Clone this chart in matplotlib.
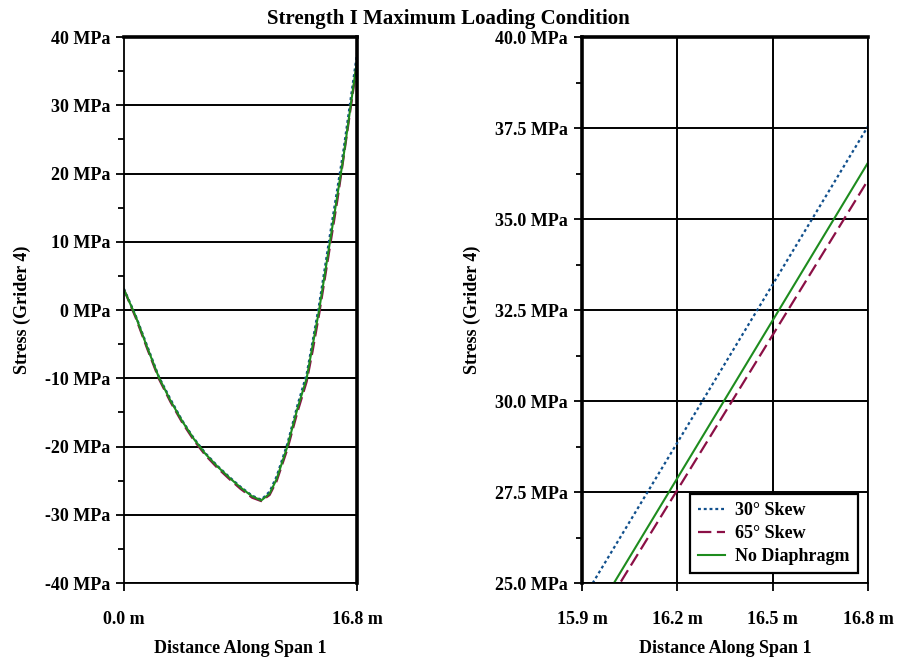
import matplotlib
matplotlib.use("Agg")
import matplotlib.pyplot as plt
from matplotlib.ticker import FixedLocator, MultipleLocator, FuncFormatter

plt.rcParams["font.family"] = ["Liberation Serif", "DejaVu Serif"]
plt.rcParams["font.weight"] = "bold"

# stations along span 1 (m)
distance = [0.0, 0.84, 1.68, 2.52, 3.36, 4.2, 5.04, 5.88, 6.72, 7.56, 8.4, 9.24,
            9.9, 10.5, 11.0, 11.78, 12.5, 13.17, 13.6, 14.07, 14.85, 15.4, 15.8, 16.8]

# stress in girder 4 (MPa)
skew30 = [3.1, -0.8, -5.3, -9.8, -13.1, -16.2, -18.8, -21.0, -22.8, -24.4, -25.9, -27.2,
          -27.8, -26.6, -24.4, -19.6, -14.0, -9.4, -4.6, 0.8, 11.0, 18.0, 23.06, 37.55]
skew65 = [3.0, -1.1, -5.7, -10.1, -13.5, -16.5, -19.1, -21.3, -23.1, -24.7, -26.2, -27.5,
          -28.0, -27.1, -25.1, -20.4, -15.0, -10.5, -6.0, -0.6, 9.3, 16.3, 21.88, 36.07]
no_diaph = [3.0, -0.9, -5.5, -9.9, -13.3, -16.3, -18.9, -21.1, -22.9, -24.5, -26.0, -27.3,
            -27.9, -26.9, -24.8, -20.0, -14.5, -10.0, -5.2, 0.0, 10.0, 17.0, 22.1, 36.55]

c_blue = "#104f8c"
c_red = "#8b1046"
c_green = "#1e8c1e"

fs = 13

fig = plt.figure(figsize=(8.97, 6.61), dpi=100)
ax1 = fig.add_axes([0.1382, 0.118, 0.2598, 0.826])
ax2 = fig.add_axes([0.6488, 0.118, 0.3189, 0.826])

for ax in (ax1, ax2):
    ax.plot(distance, skew30, color=c_blue, lw=1.6, ls=(0, (1.3, 1.3)), label="30° Skew")
    ax.plot(distance, skew65, color=c_red, lw=1.6, ls=(0, (6, 2.5)), label="65° Skew")
    ax.plot(distance, no_diaph, color=c_green, lw=1.5, label="No Diaphragm")
    ax.tick_params(axis="both", which="major", length=6, width=1.3, labelsize=fs, pad=4)
    ax.tick_params(axis="y", which="minor", length=4, width=1.3)
    ax.tick_params(axis="x", which="major", pad=14)
    for s in ax.spines.values():
        s.set_linewidth(1.3)
    ax.set_xlabel("Distance Along Span 1", fontsize=fs, fontweight="bold", labelpad=9)
    ax.set_ylabel("Stress (Grider 4)", fontsize=fs, fontweight="bold", labelpad=10)

# left: whole span
ax1.set_xlim(0, 16.8)
ax1.set_ylim(-40, 40)
ax1.xaxis.set_major_locator(FixedLocator([0, 16.8]))
ax1.xaxis.set_major_formatter(FuncFormatter(lambda v, p: f"{v:.1f} m"))
ax1.yaxis.set_major_locator(MultipleLocator(10))
ax1.yaxis.set_minor_locator(MultipleLocator(5))
ax1.yaxis.set_major_formatter(FuncFormatter(lambda v, p: f"{v:.0f} MPa"))
ax1.grid(axis="y", which="major", color="black", lw=1.4)
ax1.spines["top"].set_linewidth(2.6)
ax1.spines["right"].set_linewidth(2.6)

# right: close-up near the support
ax2.set_xlim(15.9, 16.8)
ax2.set_ylim(25, 40)
ax2.xaxis.set_major_locator(MultipleLocator(0.3))
ax2.xaxis.set_major_formatter(FuncFormatter(lambda v, p: f"{v:.1f} m"))
ax2.yaxis.set_major_locator(MultipleLocator(2.5))
ax2.yaxis.set_minor_locator(MultipleLocator(1.25))
ax2.yaxis.set_major_formatter(FuncFormatter(lambda v, p: f"{v:.1f} MPa"))
ax2.grid(which="major", color="black", lw=1.4)
ax2.spines["top"].set_linewidth(2.6)
ax2.spines["left"].set_linewidth(2.6)

for ax in (ax1, ax2):
    for lbl in ax.get_xticklabels() + ax.get_yticklabels():
        lbl.set_fontweight("bold")

leg = ax2.legend(loc="lower right", fontsize=fs, frameon=True, fancybox=False,
                 edgecolor="black", framealpha=1, handlelength=1.45, borderpad=0.45,
                 labelspacing=0.32, handletextpad=0.6, borderaxespad=0.55)
leg.get_frame().set_linewidth(1.6)
for t in leg.get_texts():
    t.set_fontweight("bold")

fig.text(0.5, 0.972, "Strength I Maximum Loading Condition", ha="center", va="center",
         fontsize=15, fontweight="bold")

fig.savefig("out.png", dpi=100)
